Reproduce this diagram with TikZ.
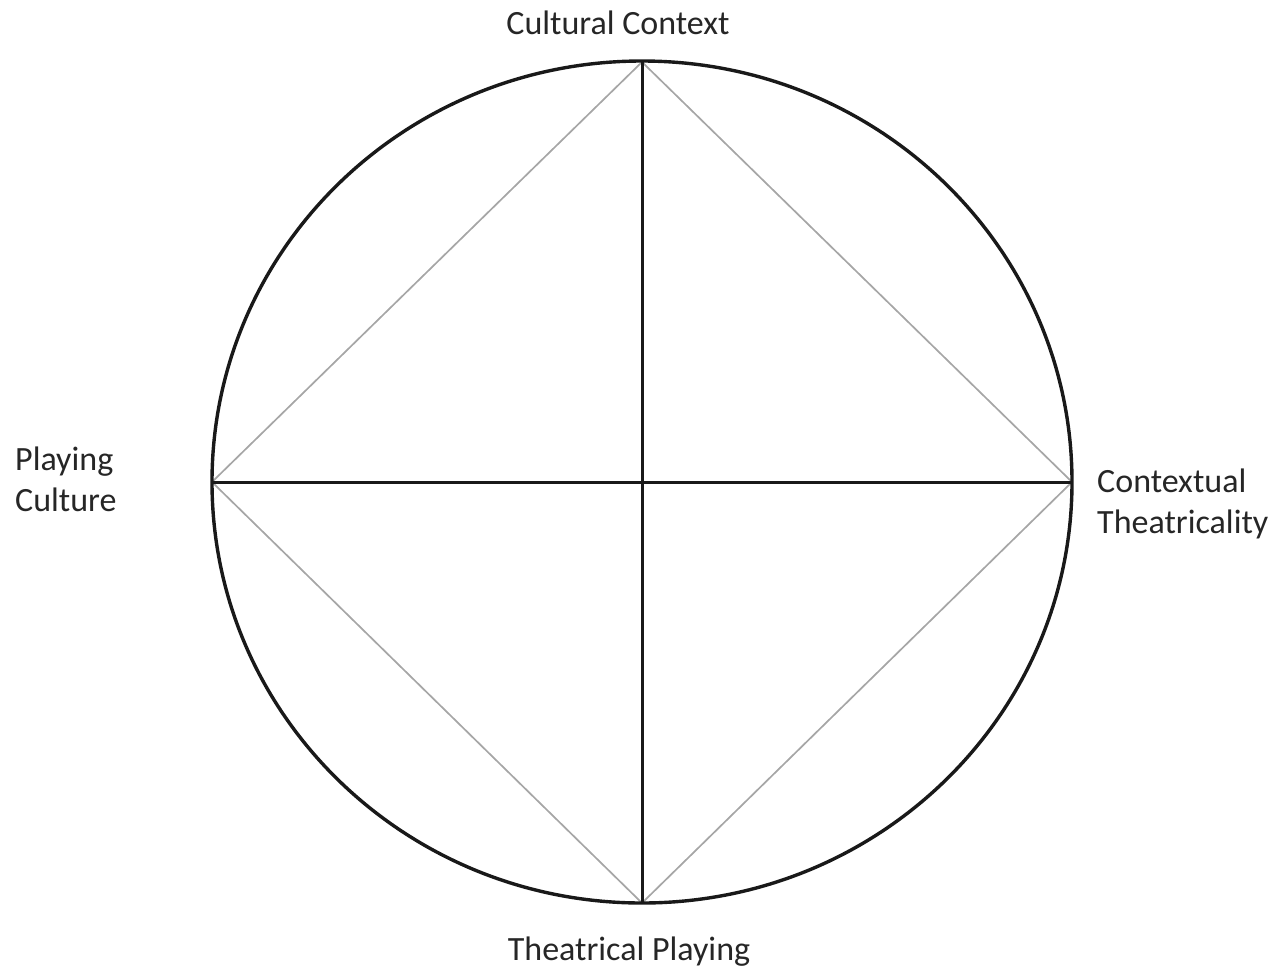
\documentclass[tikz,border=0pt]{standalone}
\usepackage{fontspec}
\setmainfont{Carlito}
\usetikzlibrary{positioning}

\begin{document}
\begin{tikzpicture}[x=1pt, y=-1pt,
    rim/.style={line width=3.4pt, black!90},
    axis/.style={line width=3pt, black!90},
    chord/.style={line width=1.7pt, black!35},
    lbl/.style={font=\fontsize{34}{41}\selectfont, inner sep=0pt, text=black!85}
]
    \useasboundingbox (0,0) rectangle (1284,970);
    \coordinate (c) at (642,482);
    \coordinate (top) at (642,62);
    \coordinate (bot) at (642,903);
    \coordinate (lft) at (212,482);
    \coordinate (rgt) at (1072,482);
    \draw[chord] (lft) -- (top) -- (rgt) -- (bot) -- cycle;
    \draw[axis] (top) -- (bot);
    \draw[axis] (lft) -- (rgt);
    \draw[rim] (c) ellipse [x radius=430pt, y radius=421pt];
    \node[lbl, anchor=base] (cult) at (618,34) {Cultural Context};
    \node[lbl, anchor=base] (theat) at (629,960) {Theatrical Playing};
    \node[lbl, anchor=base west, align=left] (play) at (15,511) {Playing\\Culture};
    \node[lbl, anchor=base west, align=left] (ctx) at (1097,533) {Contextual\\Theatricality};
\end{tikzpicture}
\end{document}
